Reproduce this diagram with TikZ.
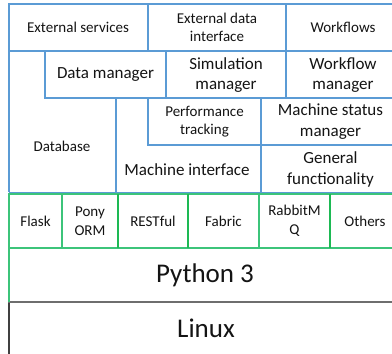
\documentclass[tikz,border=0pt]{standalone}
\usepackage{fontspec}
\setmainfont{Carlito}
\definecolor{bl}{HTML}{5B9BD5}
\definecolor{gr}{HTML}{3CC47A}
\definecolor{grd}{HTML}{1DB954}
\definecolor{gy}{HTML}{6E6E6E}
\definecolor{txt}{HTML}{141414}
\tikzset{
  bline/.style={draw=bl, line width=1.4pt},
  gline/.style={draw=gr, line width=1.6pt},
  lbl/.style={text=txt, align=center, inner sep=0pt, font=\fontsize{15}{18.5}\selectfont},
  lblm/.style={text=txt, align=center, inner sep=0pt, font=\fontsize{17}{20.5}\selectfont},
  lblb/.style={text=txt, align=center, inner sep=0pt, font=\fontsize{27}{32}\selectfont}
}
\begin{document}
\begin{tikzpicture}[x=1pt,y=-1pt]
\useasboundingbox (0,0) rectangle (392,354);
\clip (0,0) rectangle (392,354);
\fill[white] (0,0) rectangle (392,354);
% Linux
\draw[draw=black!75, line width=1.5pt] (9,302) -- (9,360);
\draw[draw=gy, line width=1.8pt] (8.25,302) -- (400,302);
% Python
\draw[gline] (9,302) -- (9,194) -- (400,194);
\draw[gline] (9,248) -- (400,248);
\draw[gline] (62,194) -- (62,248);
\foreach \xx in {118,188,330}{\draw[draw=grd, line width=1.8pt] (\xx,194) -- (\xx,248);}
\draw[gline] (259,194) -- (259,248);
% blue layer
\draw[bline] (9,192) -- (9,4) -- (400,4);
\draw[bline] (9,51) -- (400,51);
\draw[bline] (148,4) -- (148,51);
\draw[bline] (286,4) -- (286,98);
\draw[bline] (45,51) -- (45,98) -- (400,98);
\draw[bline] (166,51) -- (166,98);
\draw[bline] (116,98) -- (116,193);
\draw[bline] (148,98) -- (148,145) -- (400,145);
\draw[bline] (261,98) -- (261,193);
\draw[bline] (9,192.5) -- (400,192.5);
% texts
\node[lbl] (es) at (78,27.5) {External services};
\node[lbl] (edi) at (217,27.5) {External data\\interface};
\node[lbl] (wf) at (343,27.5) {Workflows};
\node[lblm] (dm) at (105.5,75) {Data manager};
\node[lblm] (sm) at (226,75) {Simulation\\manager};
\node[lblm] (wm) at (343,75) {Workflow\\manager};
\node[lbl] (db) at (62,146) {Database};
\node[lbl] (pt) at (204.5,121.5) {Performance\\tracking};
\node[lblm] (msm) at (330.5,121.5) {Machine status\\manager};
\node[lblm] (mi) at (187,169.5) {Machine interface};
\node[lblm] (gf) at (330.5,169.5) {General\\functionality};
\node[lbl] (fl) at (35.5,221) {Flask};
\node[lbl] (po) at (90,221) {Pony\\ORM};
\node[lbl] (re) at (153,221) {RESTful};
\node[lbl] (fa) at (223.5,221) {Fabric};
\node[lbl] (ra) at (294.5,221) {RabbitM\\Q};
\node[lbl] (ot) at (365,221) {Others};
\node[lblb] (py) at (205,275) {Python 3};
\node[lblb] (li) at (206,328) {Linux};
\end{tikzpicture}
\end{document}
